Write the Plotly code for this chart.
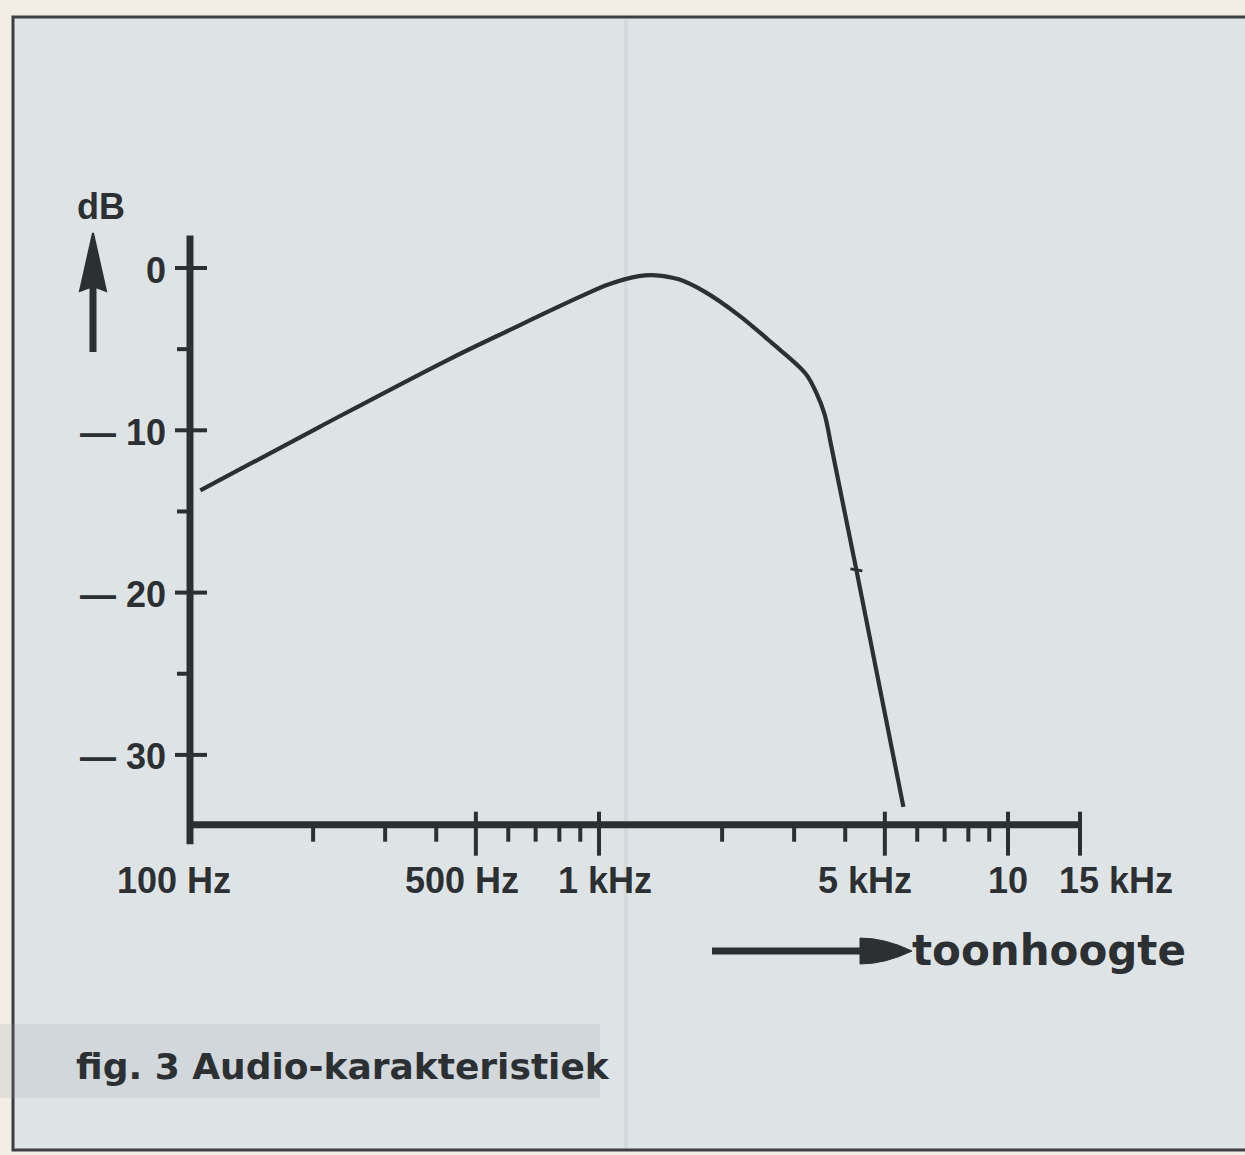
import math
import plotly.graph_objects as go

# Audio response curve (frequency in Hz, level in dB)
freq_hz = [106, 207, 424, 613, 894, 1058, 1252, 1377, 1567, 1824, 2195, 2642, 3198, 3400, 3560, 3700, 4259, 5550]
level_db = [-13.7, -9.8, -5.7, -3.75, -1.8, -1.0, -0.5, -0.45, -0.7, -1.5, -2.9, -4.6, -6.5, -7.7, -9.0, -11.0, -18.6, -33.2]

# Axis ticks
x_major = [500, 1000, 5000, 10000, 15000]
x_minor = [200, 300, 400, 600, 700, 800, 900, 2000, 3000, 4000, 6000, 7000, 8000, 9000]
x_labels = ["100 Hz", "500 Hz", "1 kHz", "5 kHz", "10", "15 kHz"]
x_label_pos = [100, 500, 1000, 5000, 10000, 15000]
y_major = [0, -10, -20, -30]
y_minor = [-5, -15, -25]
y_labels = ["0", "— 10", "— 20", "— 30"]

X_MIN, X_MAX = 100, 15000
Y_AXIS_TOP, Y_AXIS_BOTTOM = 2.0, -35.5
X_AXIS_LEVEL = -34.3

INK = "#2c3033"
PANEL = "#dee4e6"
PAPER = "#f2eee6"

W, H = 1245, 1155

# plot area fills the page; axis ranges place 100 Hz..15 kHz and the dB scale
AX_LEFT_PX, AX_RIGHT_PX = 190, 1080
DEC_PX = (AX_RIGHT_PX - AX_LEFT_PX) / math.log10(X_MAX / X_MIN)
ZERO_DB_PX, DB_PX = 268, 16.23
x_range = [math.log10(X_MIN) - AX_LEFT_PX / DEC_PX,
           math.log10(X_MIN) + (W - AX_LEFT_PX) / DEC_PX]
y_range = [-(H - ZERO_DB_PX) / DB_PX, ZERO_DB_PX / DB_PX]


def px(xp):
    return xp / W


def py(yp):
    return 1 - yp / H


def hz_offset(f, dpx):
    """Frequency lying dpx screen pixels to the right of f on the log axis."""
    return f * 10 ** (dpx / DEC_PX)


fig = go.Figure()

fig.add_trace(go.Scatter(
    x=freq_hz, y=level_db, mode="lines",
    line=dict(color=INK, width=4.2, shape="spline", smoothing=1.0),
    hoverinfo="skip", showlegend=False,
))

shapes = []

# panel background with frame
shapes.append(dict(type="rect", xref="paper", yref="paper", layer="below",
                   x0=px(13), x1=px(1262), y0=py(17), y1=py(1150),
                   fillcolor=PANEL, line=dict(color="#3c3f42", width=3)))
# faint column gutter and bleed-through band behind the caption
shapes.append(dict(type="line", xref="paper", yref="paper", layer="below",
                   x0=px(626), x1=px(626), y0=py(20), y1=py(1148),
                   line=dict(color="rgba(120,130,138,0.10)", width=4)))
shapes.append(dict(type="rect", xref="paper", yref="paper", layer="below",
                   x0=px(0), x1=px(600), y0=py(1024), y1=py(1098),
                   fillcolor="rgba(140,148,155,0.16)", line=dict(width=0)))

# axis lines
shapes.append(dict(type="line", xref="x", yref="y", x0=X_MIN, x1=X_MIN,
                   y0=Y_AXIS_TOP, y1=Y_AXIS_BOTTOM, line=dict(color=INK, width=7)))
shapes.append(dict(type="line", xref="x", yref="y", x0=X_MIN, x1=X_MAX,
                   y0=X_AXIS_LEVEL, y1=X_AXIS_LEVEL, line=dict(color=INK, width=7)))

# y ticks: major ones cross the axis, minor ones sit on its left
for v in y_major:
    shapes.append(dict(type="line", xref="x", yref="y",
                       x0=hz_offset(X_MIN, -15), x1=hz_offset(X_MIN, 17), y0=v, y1=v,
                       line=dict(color=INK, width=4)))
for v in y_minor:
    shapes.append(dict(type="line", xref="x", yref="y",
                       x0=hz_offset(X_MIN, -13), x1=X_MIN, y0=v, y1=v,
                       line=dict(color=INK, width=4)))
# x ticks
for v in x_major:
    shapes.append(dict(type="line", xref="x", yref="y",
                       x0=v, x1=v, y0=X_AXIS_LEVEL + 13 / DB_PX, y1=X_AXIS_LEVEL - 31 / DB_PX,
                       line=dict(color=INK, width=4)))
for v in x_minor:
    shapes.append(dict(type="line", xref="x", yref="y",
                       x0=v, x1=v, y0=X_AXIS_LEVEL, y1=X_AXIS_LEVEL - 17 / DB_PX,
                       line=dict(color=INK, width=4)))

# small cross mark on the steep slope
mark_f, mark_db = freq_hz[-2], level_db[-2]
shapes.append(dict(type="line", xref="x", yref="y",
                   x0=hz_offset(mark_f, -6), x1=hz_offset(mark_f, 6),
                   y0=mark_db + 1 / DB_PX, y1=mark_db - 1 / DB_PX,
                   line=dict(color=INK, width=3)))

# dB arrow (vertical)
shapes.append(dict(type="line", xref="paper", yref="paper",
                   x0=px(93), x1=px(93), y0=py(352), y1=py(282), line=dict(color=INK, width=7)))
shapes.append(dict(type="path", xref="paper", yref="paper",
                   path=f"M {px(93)},{py(233)} L {px(106)},{py(291)} L {px(93)},{py(286)} "
                        f"L {px(80)},{py(291)} Z",
                   fillcolor=INK, line=dict(color=INK, width=2)))
# pitch arrow (horizontal)
shapes.append(dict(type="line", xref="paper", yref="paper",
                   x0=px(712), x1=px(868), y0=py(951), y1=py(951), line=dict(color=INK, width=7)))
shapes.append(dict(type="path", xref="paper", yref="paper",
                   path=f"M {px(860)},{py(938)} Q {px(885)},{py(938)} {px(912)},{py(951)} "
                        f"Q {px(885)},{py(964)} {px(860)},{py(964)} Z",
                   fillcolor=INK, line=dict(color=INK, width=1)))

annotations = []
tick_font = dict(family="Liberation Sans, Arial, sans-serif", size=36, color=INK)
label_shift = [-16, -14, 6, -20, 0, 36]
for lbl, pos, sh in zip(x_labels, x_label_pos, label_shift):
    annotations.append(dict(x=math.log10(pos), y=X_AXIS_LEVEL, xref="x", yref="y",
                            text=f"<b>{lbl}</b>", showarrow=False,
                            xanchor="center", yanchor="middle",
                            xshift=sh, yshift=-56, font=tick_font))
for lbl, v in zip(y_labels, y_major):
    annotations.append(dict(x=math.log10(X_MIN), y=v, xref="x", yref="y", text=f"<b>{lbl}</b>",
                            showarrow=False, xanchor="right", yanchor="middle",
                            xshift=-22, yshift=-2, font=tick_font))

annotations.append(dict(x=px(101), y=py(207), xref="paper", yref="paper", text="<b>dB</b>",
                        showarrow=False, xanchor="center", yanchor="middle",
                        font=dict(family="Liberation Sans, Arial, sans-serif", size=36, color=INK)))
annotations.append(dict(x=px(910), y=py(950), xref="paper", yref="paper", text="<b>toonhoogte</b>",
                        showarrow=False, xanchor="left", yanchor="middle",
                        font=dict(family="DejaVu Sans, sans-serif", size=42, color=INK)))
annotations.append(dict(x=px(74), y=py(1066), xref="paper", yref="paper",
                        text="<b>fig. 3 Audio-karakteristiek</b>",
                        showarrow=False, xanchor="left", yanchor="middle",
                        font=dict(family="DejaVu Sans, sans-serif", size=36, color=INK)))

fig.update_layout(
    width=W, height=H,
    margin=dict(l=0, r=0, t=0, b=0, pad=0),
    paper_bgcolor=PAPER, plot_bgcolor="rgba(0,0,0,0)",
    xaxis=dict(type="log", range=x_range, showgrid=False, zeroline=False,
               showline=False, showticklabels=False, ticks="", fixedrange=True),
    yaxis=dict(range=y_range, showgrid=False, zeroline=False,
               showline=False, showticklabels=False, ticks="", fixedrange=True),
    shapes=shapes, annotations=annotations, showlegend=False,
)

fig.write_html("out.html", config={"displayModeBar": False},
               post_script="document.body.style.margin='0';")
